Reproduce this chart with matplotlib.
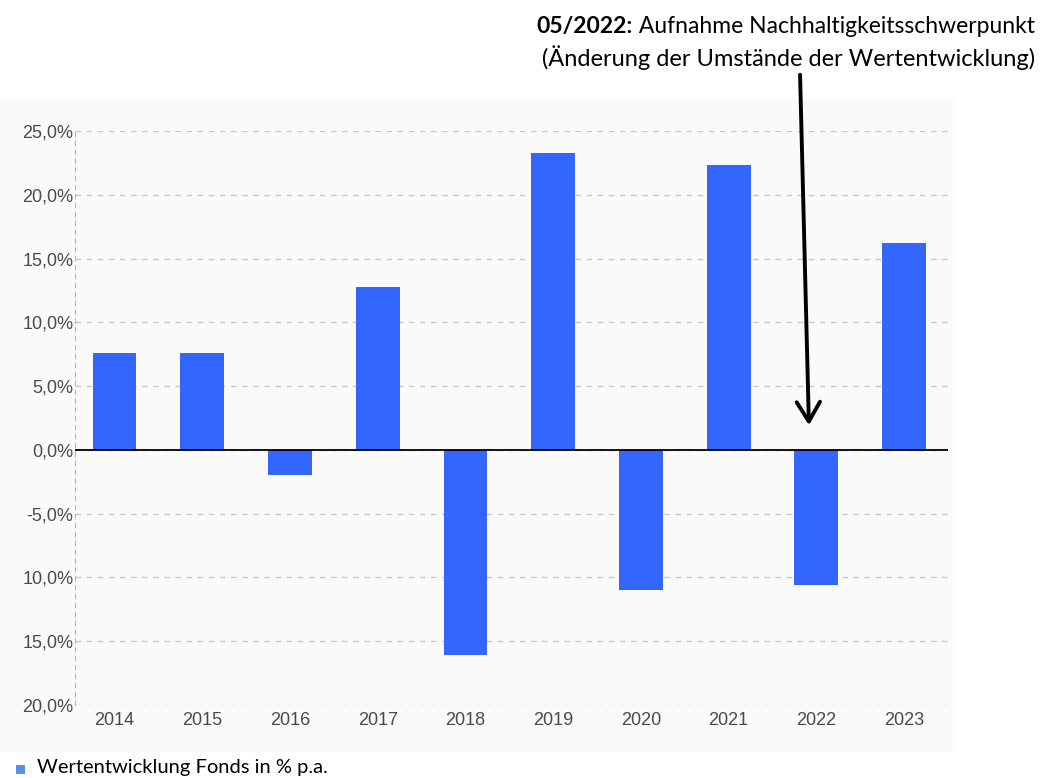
import matplotlib
matplotlib.use("Agg")
import matplotlib.pyplot as plt
from matplotlib.patches import Rectangle, FancyArrowPatch

years = ["2014", "2015", "2016", "2017", "2018", "2019", "2020", "2021", "2022", "2023"]
values = [7.6, 7.6, -2.0, 12.8, -16.1, 23.3, -11.0, 22.3, -10.6, 16.2]
ytick_vals = [25, 20, 15, 10, 5, 0, -5, -10, -15, -20]
ytick_labels = ["25,0%", "20,0%", "15,0%", "10,0%", "5,0%", "0,0%", "-5,0%", "10,0%", "15,0%", "20,0%"]
legend_label = "Wertentwicklung Fonds in % p.a."
note_bold = "05/2022:"
note_line1 = " Aufnahme Nachhaltigkeitsschwerpunkt"
note_line2 = "(Änderung der Umstände der Wertentwicklung)"

W, H = 1041, 778
fig = plt.figure(figsize=(W / 100, H / 100), dpi=100)
fig.patch.set_facecolor("white")

# light panel behind the chart
panel = Rectangle((0, 1 - 752 / H), 955 / W, (752 - 100) / H,
                  transform=fig.transFigure, facecolor="#fafafa",
                  edgecolor="none", zorder=-10)
fig.add_artist(panel)

ax = fig.add_axes([75 / W, 1 - 705 / H, (948 - 75) / W, (705 - 131) / H])
ax.set_zorder(1)
ax.set_facecolor("#fafafa")
x = range(len(years))
ax.bar(x, values, width=0.5, color="#3366ff", zorder=3)
ax.set_xlim(-0.45, len(years) - 0.5)
ax.set_ylim(-20, 25)
ax.set_yticks(ytick_vals)
ax.set_yticklabels(ytick_labels, fontfamily="Liberation Sans", fontsize=13, color="#4a4a4a")
ax.set_xticks(list(x))
ax.set_xticklabels(years, fontfamily="Liberation Sans", fontsize=13, color="#4a4a4a")
ax.tick_params(axis="x", length=0, pad=5)
ax.tick_params(axis="y", length=0, pad=1)
for s in ["top", "right", "bottom"]:
    ax.spines[s].set_visible(False)
ax.spines["left"].set_linestyle((0, (4, 4)))
ax.spines["left"].set_color("#b8b8b8")
ax.yaxis.grid(True, linestyle=(0, (4, 4)), color="#c8c8c8", linewidth=1, zorder=1)
ax.set_axisbelow(True)
ax.axhline(0, color="black", linewidth=1.3, zorder=4)

# annotation text
rx = 1035 / W
fs = 16.5
t1 = fig.text(rx, 1 - 33 / H, note_line1, ha="right", va="baseline",
              fontfamily="Lato", fontsize=fs, color="black", zorder=5)
fig.canvas.draw()
bb = t1.get_window_extent(fig.canvas.get_renderer())
fig.text(bb.x0 / W, 1 - 33 / H, note_bold, ha="right", va="baseline",
         fontfamily="Lato", fontsize=fs, fontweight="bold", color="black", zorder=5)
fig.text(rx, 1 - 66 / H, note_line2, ha="right", va="baseline",
         fontfamily="Lato", fontsize=fs + 0.5, color="black", zorder=5)

# arrow
arrow = FancyArrowPatch((800 / W, 1 - 72 / H), (809 / W, 1 - 428 / H),
                        transform=fig.transFigure,
                        arrowstyle="->,head_length=10,head_width=6", mutation_scale=1.4,
                        linewidth=2.8, color="black", zorder=6)
fig.add_artist(arrow)

# legend
fig.add_artist(Rectangle((16 / W, 1 - 774 / H), 9 / W, 9 / H, transform=fig.transFigure,
                         facecolor="#5b8fe0", edgecolor="none", zorder=5))
fig.text(37 / W, 1 - 773 / H, legend_label, ha="left", va="baseline",
         fontfamily="Lato", fontsize=14.5, color="black", zorder=5)

fig.savefig("out.png", dpi=100)
